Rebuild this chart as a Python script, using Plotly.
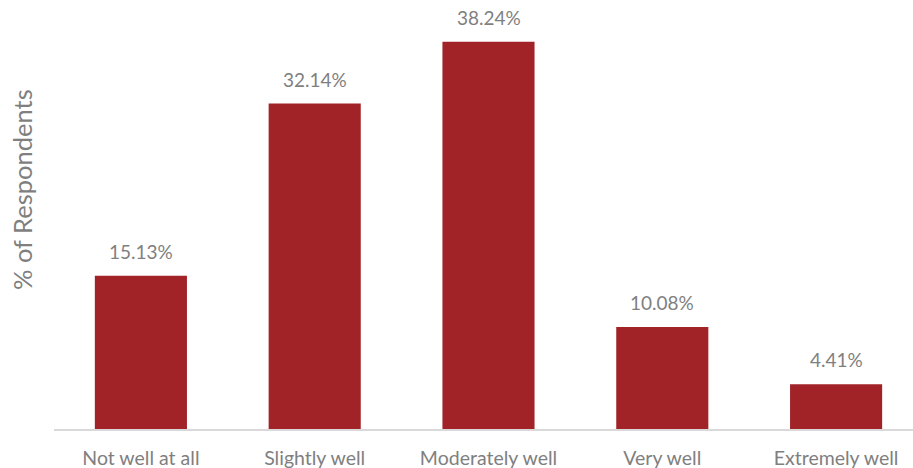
import plotly.graph_objects as go

categories = ["Not well at all", "Slightly well", "Moderately well", "Very well", "Extremely well"]
values = [15.13, 32.14, 38.24, 10.08, 4.41]
labels = ["15.13%", "32.14%", "38.24%", "10.08%", "4.41%"]

BAR = "#A12327"
GRAY = "#7F7F7F"
FONT = "Lato"

fig = go.Figure(go.Bar(x=categories, y=values, marker=dict(color=BAR, line=dict(width=0)),
                       width=0.53, hoverinfo="skip"))

for c, v, t in zip(categories, values, labels):
    fig.add_annotation(x=c, y=v, text=t, showarrow=False, yanchor="bottom",
                       yshift=11, font=dict(family=FONT, size=19, color=GRAY))

fig.add_annotation(xref="paper", yref="paper", x=0, xshift=-32, y=0.59,
                   text="% of Respondents", textangle=-90, showarrow=False,
                   xanchor="center", yanchor="middle",
                   font=dict(family=FONT, size=25.5, color=GRAY))

fig.update_layout(
    width=913, height=468,
    margin=dict(l=54, r=0, t=24, b=39),
    paper_bgcolor="white", plot_bgcolor="white",
    showlegend=False,
    bargap=0.47,
    font=dict(family=FONT, size=19, color=GRAY),
)
fig.update_xaxes(range=[-0.5, 4.4425], showline=True, linecolor="#D9D9D9", linewidth=2,
                 ticks="outside", ticklen=11, tickcolor="rgba(0,0,0,0)",
                 tickfont=dict(family=FONT, size=19.5, color=GRAY), showgrid=False, zeroline=False)
fig.update_yaxes(range=[0, 40], showticklabels=False, showgrid=False, zeroline=False,
                 showline=False, ticks="")

fig.write_html("out.html")
